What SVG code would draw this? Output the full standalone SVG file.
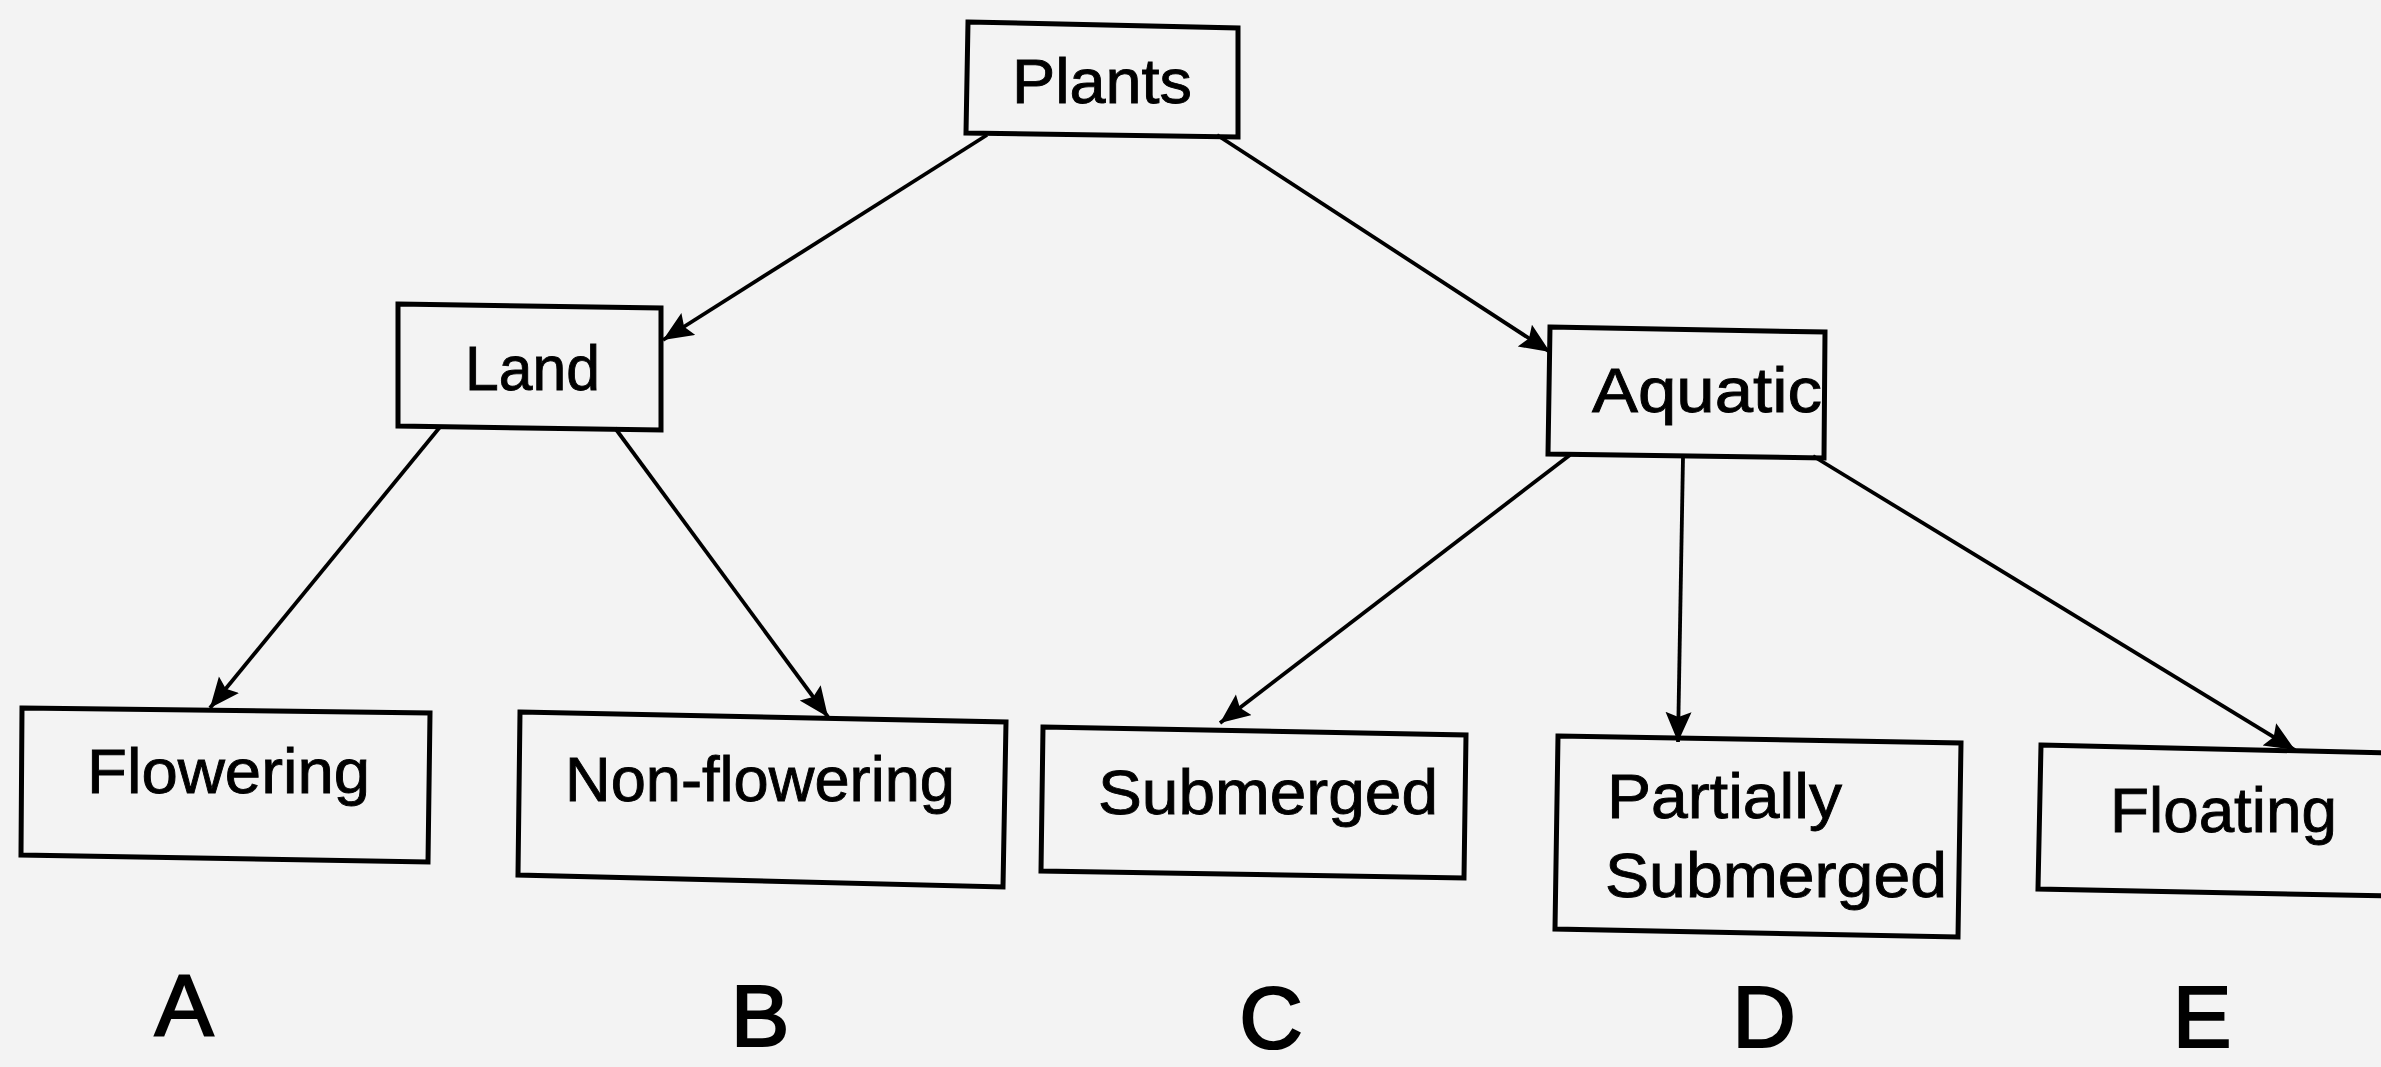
<svg xmlns="http://www.w3.org/2000/svg" width="2381" height="1067" viewBox="0 0 2381 1067">
<style>
.box{fill:none;stroke:#000;stroke-width:5;stroke-linejoin:miter}
.lbl{font-family:"Liberation Sans",Arial,sans-serif;font-size:63px;fill:#000;stroke:#000;stroke-width:0.9}
.tag{font-family:"Liberation Sans",Arial,sans-serif;font-size:88px;fill:#000;stroke:#000;stroke-width:2.2;text-anchor:middle}
.edge{fill:none;stroke:#000;stroke-width:3.8}
</style>
<defs>
<marker id="arr" markerUnits="userSpaceOnUse" markerWidth="32" markerHeight="28" refX="30" refY="13" orient="auto">
<path d="M0,0 L30,13 L0,26 L5,13 z" fill="#000"/>
</marker>
</defs>
<rect width="2381" height="1067" fill="#f3f3f3"/>
<g id="connectors">
<line class="edge" x1="987" y1="135" x2="663" y2="340" marker-end="url(#arr)"/>
<line class="edge" x1="1217" y1="135" x2="1550" y2="352" marker-end="url(#arr)"/>
<line class="edge" x1="440" y1="427" x2="210" y2="708" marker-end="url(#arr)"/>
<line class="edge" x1="615" y1="428" x2="828" y2="717" marker-end="url(#arr)"/>
<line class="edge" x1="1570" y1="455" x2="1220" y2="723" marker-end="url(#arr)"/>
<line class="edge" x1="1683" y1="457" x2="1678" y2="742" marker-end="url(#arr)"/>
<line class="edge" x1="1813" y1="456" x2="2295" y2="750" marker-end="url(#arr)"/>
</g>
<g id="plants">
<polygon class="box" points="968,22 1238,28 1238,137 966,133"/>
<text class="lbl" x="1012" y="103" textLength="180" lengthAdjust="spacingAndGlyphs">Plants</text>
</g>
<g id="land">
<polygon class="box" points="398,304 661,308 661,430 398,426"/>
<text class="lbl" x="465" y="390" textLength="135" lengthAdjust="spacingAndGlyphs">Land</text>
</g>
<g id="aquatic">
<polygon class="box" points="1550,327 1825,332 1824,458 1548,454"/>
<text class="lbl" x="1592" y="412" textLength="230" lengthAdjust="spacingAndGlyphs">Aquatic</text>
</g>
<g id="flowering">
<polygon class="box" points="22,708 430,713 428,862 21,855"/>
<text class="lbl" x="87" y="793" textLength="283" lengthAdjust="spacingAndGlyphs">Flowering</text>
</g>
<g id="non-flowering">
<polygon class="box" points="520,712 1006,722 1003,887 518,875"/>
<text class="lbl" x="565" y="801" textLength="390" lengthAdjust="spacingAndGlyphs">Non-flowering</text>
</g>
<g id="submerged">
<polygon class="box" points="1043,727 1466,735 1464,878 1041,871"/>
<text class="lbl" x="1098" y="814" textLength="340" lengthAdjust="spacingAndGlyphs">Submerged</text>
</g>
<g id="partially-submerged">
<polygon class="box" points="1558,736 1961,743 1958,937 1555,929"/>
<text class="lbl" x="1607" y="818" textLength="235" lengthAdjust="spacingAndGlyphs">Partially</text>
<text class="lbl" x="1605" y="897" textLength="342" lengthAdjust="spacingAndGlyphs">Submerged</text>
</g>
<g id="floating">
<polygon class="box" points="2041,745 2390,753 2390,896 2038,889"/>
<text class="lbl" x="2110" y="832" textLength="227" lengthAdjust="spacingAndGlyphs">Floating</text>
</g>
<g id="letters">
<text class="tag" x="184" y="1036">A</text>
<text class="tag" x="760" y="1046">B</text>
<text class="tag" x="1271" y="1048">C</text>
<text class="tag" x="1764" y="1047">D</text>
<text class="tag" x="2202" y="1047">E</text>
</g>
</svg>
